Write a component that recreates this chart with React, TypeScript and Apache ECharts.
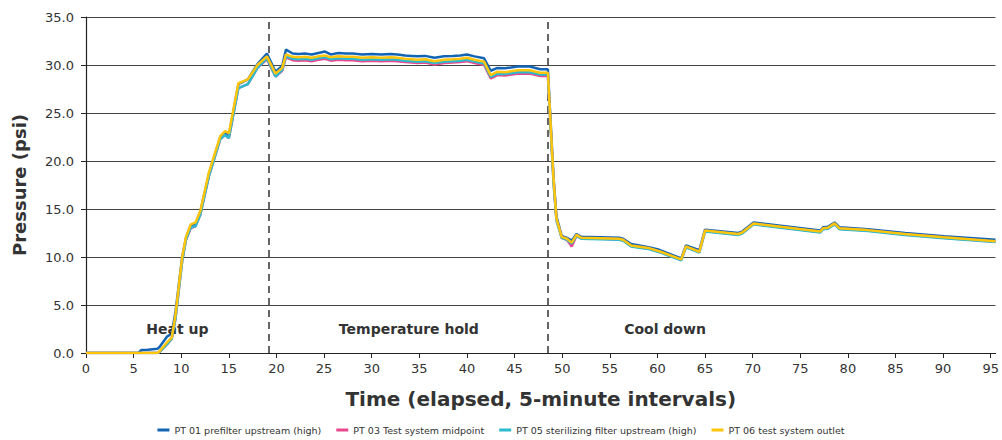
import React, { useEffect, useRef } from "react";
import * as echarts from "echarts";

const time = [
  0, 5.5, 5.8, 6.5, 7.5, 7.7, 8.5, 9.0, 9.4, 10.1,
  10.5, 11.0, 11.5, 12.0, 12.9, 14.1, 14.6, 15.0, 16.0, 17.0,
  18.0, 19.0, 19.9, 20.6, 21.0, 21.7, 22.3, 23.0, 23.7, 24.4,
  25.1, 25.7, 26.5, 27.3, 28.0, 29.0, 30.0, 31.0, 32.0, 32.7,
  33.5, 34.2, 34.8, 35.6, 36.6, 37.6, 38.5, 39.3, 40.0, 40.8,
  41.8, 42.5, 43.2, 44.0, 45.3, 46.6, 47.7, 48.5, 49.1, 49.4,
  49.95, 50.5, 51.0, 51.5, 52.0, 56.0, 56.4, 57.25, 59.2, 60.2,
  62.5, 63.0, 64.4, 65.0, 68.5, 68.9, 70.1, 77.1, 77.4, 77.9,
  78.6, 79.1, 82.1, 86.0, 90.1, 95.5,
];

const pt01 = [
  0, 0, 0.3, 0.35, 0.45, 0.6, 1.7, 2.0, 4.3, 10.0,
  12.0, 13.3, 13.4, 14.7, 18.6, 22.5, 23.0, 22.6, 28.0, 28.5,
  30.1, 31.2, 29.3, 29.9, 31.6, 31.2, 31.15, 31.2, 31.1, 31.25,
  31.4, 31.1, 31.25, 31.2, 31.2, 31.1, 31.15, 31.1, 31.15, 31.1,
  31.0, 30.95, 30.9, 30.95, 30.75, 30.9, 30.95, 31.0, 31.1, 30.9,
  30.7, 29.4, 29.7, 29.65, 29.85, 29.85, 29.55, 29.55, 18.2, 14.2,
  12.2, 12.0, 11.7, 12.4, 12.1, 12.0, 11.9, 11.35, 11.0, 10.75,
  9.85, 11.2, 10.7, 12.85, 12.5, 12.65, 13.6, 12.75, 13.1, 13.15,
  13.6, 13.1, 12.9, 12.5, 12.15, 11.8,
];

const pt03 = [
  0, 0, 0, 0, 0, 0.1, 0.9, 1.5, 3.6, 9.6,
  11.8, 13.0, 13.2, 14.4, 18.4, 22.3, 22.7, 22.4, 27.6, 28.0,
  29.7, 30.6, 28.8, 29.4, 30.8, 30.5, 30.45, 30.5, 30.4, 30.55,
  30.65, 30.45, 30.55, 30.5, 30.5, 30.4, 30.45, 30.4, 30.45, 30.4,
  30.3, 30.25, 30.2, 30.25, 30.05, 30.2, 30.25, 30.3, 30.4, 30.2,
  30.0, 28.6, 28.95, 28.9, 29.1, 29.1, 28.85, 28.85, 17.8, 13.9,
  12.0, 11.8, 11.1, 12.2, 11.95, 11.85, 11.75, 11.15, 10.85, 10.55,
  9.7, 11.05, 10.5, 12.7, 12.35, 12.5, 13.45, 12.6, 12.95, 13.0,
  13.45, 12.95, 12.75, 12.35, 12.0, 11.6,
];

const pt05 = [
  0, 0, 0, 0, 0, 0.1, 0.9, 1.5, 3.6, 9.6,
  11.8, 13.1, 13.2, 14.4, 18.4, 22.3, 22.7, 22.4, 27.6, 28.0,
  29.7, 30.7, 28.8, 29.5, 30.9, 30.65, 30.6, 30.65, 30.55, 30.7,
  30.8, 30.6, 30.7, 30.65, 30.65, 30.55, 30.6, 30.55, 30.6, 30.55,
  30.45, 30.4, 30.35, 30.4, 30.2, 30.35, 30.4, 30.45, 30.55, 30.35,
  30.15, 28.75, 29.1, 29.05, 29.25, 29.25, 29.0, 29.0, 17.6, 13.8,
  12.0, 11.8, 11.4, 12.2, 11.9, 11.8, 11.7, 11.1, 10.8, 10.5,
  9.65, 11.0, 10.45, 12.65, 12.3, 12.45, 13.4, 12.55, 12.9, 12.95,
  13.4, 12.9, 12.7, 12.3, 11.95, 11.55,
];

const pt06 = [
  0, 0, 0, 0, 0, 0.15, 1.1, 1.6, 4.0, 10.0,
  12.1, 13.4, 13.6, 14.8, 18.8, 22.6, 23.1, 22.9, 28.1, 28.5,
  30.0, 30.9, 29.1, 29.7, 31.1, 30.85, 30.8, 30.85, 30.75, 30.9,
  31.0, 30.8, 30.9, 30.85, 30.85, 30.75, 30.8, 30.75, 30.8, 30.75,
  30.65, 30.6, 30.55, 30.6, 30.4, 30.55, 30.6, 30.65, 30.75, 30.55,
  30.35, 28.95, 29.3, 29.25, 29.45, 29.45, 29.2, 29.2, 18.0, 14.0,
  12.1, 11.9, 11.5, 12.3, 12.0, 11.9, 11.8, 11.2, 10.9, 10.6,
  9.75, 11.1, 10.55, 12.75, 12.4, 12.55, 13.5, 12.65, 13.0, 13.05,
  13.5, 13.0, 12.8, 12.4, 12.05, 11.65,
];

const seriesNames = [
  "PT 01 prefilter upstream (high)",
  "PT 03 Test system midpoint",
  "PT 05 sterilizing filter upstream (high)",
  "PT 06 test system outlet",
];
const seriesColors = ["#1464b4", "#e8488e", "#2cbad0", "#ffc40c"];
const seriesValues = [pt01, pt03, pt05, pt06];

const xTicks = [0, 5, 10, 15, 20, 25, 30, 35, 40, 45, 50, 55, 60, 65, 70, 75, 80, 85, 90, 95];
const phaseBoundaries = [19.2, 48.5];
const phaseLabels = ["Heat up", "Temperature hold", "Cool down"];
const phaseLabelX = [9.6, 33.9, 60.8];
const phaseLabelY = 2.5;

const FONT = "DejaVu Sans, Verdana, sans-serif";

export default function App() {
  const ref = useRef<HTMLDivElement>(null);

  useEffect(() => {
    if (!ref.current) return;
    const chart = echarts.init(ref.current, null, { renderer: "svg" });

    const series: any[] = seriesValues.map((vals, si) => {
      const s: any = {
        name: seriesNames[si],
        type: "line",
        data: time.map((t, i) => [t, vals[i]]),
        showSymbol: false,
        symbol: "none",
        lineStyle: { width: 2.5, color: seriesColors[si] },
        itemStyle: { color: seriesColors[si] },
        z: 3 + si,
      };
      if (si === 0) {
        s.markLine = {
          silent: true,
          symbol: ["none", "none"],
          label: { show: false },
          lineStyle: { type: [7, 5], color: "#333", width: 1.5 },
          data: phaseBoundaries.map((x) => ({ xAxis: x })),
          z: 2,
        };
      }
      if (si === 3) {
        s.markPoint = {
          silent: true,
          symbol: "rect",
          symbolSize: 1,
          itemStyle: { color: "rgba(0,0,0,0)" },
          label: {
            show: true,
            position: "inside",
            formatter: "{b}",
            fontFamily: FONT,
            fontWeight: "bold",
            fontSize: 14,
            color: "#333",
          },
          data: phaseLabels.map((n, i) => ({ name: n, coord: [phaseLabelX[i], phaseLabelY] })),
        };
      }
      return s;
    });

    chart.setOption({
      animation: false,
      backgroundColor: "#fff",
      textStyle: { fontFamily: FONT },
      grid: { left: 86, top: 17, width: 916, height: 336, containLabel: false },
      legend: {
        bottom: 0,
        left: "center",
        icon: "rect",
        itemWidth: 12,
        itemHeight: 3,
        itemGap: 15,
        textStyle: { fontFamily: FONT, fontSize: 9.5, color: "#333", padding: [0, 0, 0, 0] },
        data: seriesNames,
      },
      xAxis: {
        type: "value",
        min: 0,
        max: 95.5,
        interval: 5,
        name: "Time (elapsed, 5-minute intervals)",
        nameLocation: "middle",
        nameGap: 36,
        nameTextStyle: { fontFamily: FONT, fontWeight: "bold", fontSize: 20, color: "#333" },
        axisLine: { show: true, lineStyle: { color: "#222", width: 1.2 } },
        axisTick: { show: true, length: 5, lineStyle: { color: "#222" }, customValues: xTicks },
        axisLabel: { fontSize: 13, color: "#333", margin: 9, customValues: xTicks },
        splitLine: { show: false },
      },
      yAxis: {
        type: "value",
        min: 0,
        max: 35,
        interval: 5,
        name: "Pressure (psi)",
        nameLocation: "middle",
        nameGap: 58,
        nameTextStyle: { fontFamily: FONT, fontWeight: "bold", fontSize: 18, color: "#333" },
        axisLine: { show: true, lineStyle: { color: "#222", width: 1.2 } },
        axisTick: { show: true, length: 5, lineStyle: { color: "#222" } },
        axisLabel: { fontSize: 13, color: "#333", margin: 12, formatter: (v: number) => v.toFixed(1) },
        splitLine: { show: true, lineStyle: { color: "#444", width: 1.2 } },
      },
      series,
    });

    return () => chart.dispose();
  }, []);

  return (
    <div style={{ position: "fixed", left: 0, top: 0, width: 1002, height: 440, overflow: "hidden", background: "#fff" }}>
      <div ref={ref} style={{ width: 1002, height: 440 }} />
    </div>
  );
}
